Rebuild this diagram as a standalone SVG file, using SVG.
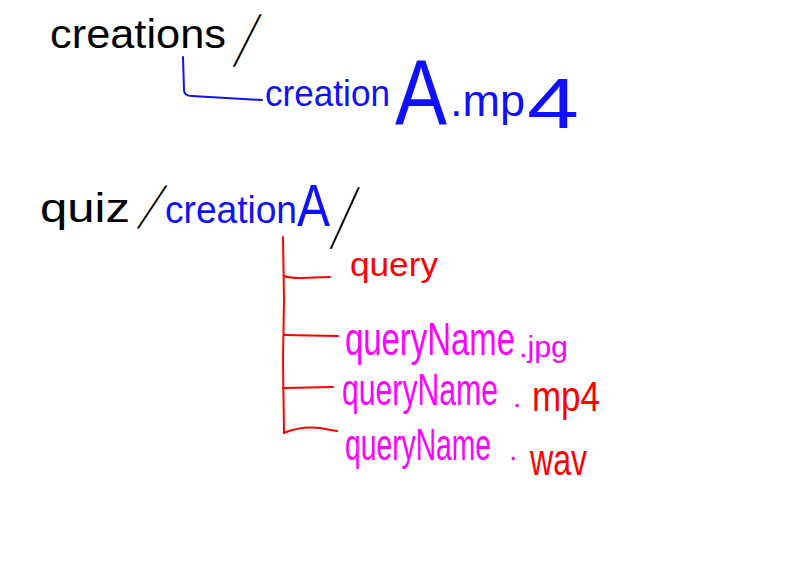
<svg xmlns="http://www.w3.org/2000/svg" width="800" height="568" viewBox="0 0 800 568">
<style>
text{font-family:"Liberation Sans","DejaVu Sans",sans-serif;}
.k{fill:#000}
.b{fill:#1010ff}
.r{fill:#ff0000}
.m{fill:#ff00ff}
.sl{font-size:28px;fill:#000}
.ln{fill:none;stroke-width:2;stroke-linecap:round;stroke-linejoin:round}
</style>
<rect width="800" height="568" fill="#fff"/>
<g id="connectors">
<path class="ln" stroke="#1010ff" d="M183,57 L184,90 Q184,96 192,96 L262,100"/>
<path class="ln" stroke="#ff0000" d="M283,237 L284,300 L283,360 L284,433"/>
<path class="ln" stroke="#ff0000" d="M284,276 Q290,278 300,278 L330,277"/>
<path class="ln" stroke="#ff0000" d="M284,335 L338,336"/>
<path class="ln" stroke="#ff0000" d="M283,388 L333,387"/>
<path class="ln" stroke="#ff0000" d="M284,433 Q300,426 320,428 Q330,430 337,431"/>
</g>
<g id="node-creations">
<text class="k" x="50" y="48" font-size="40" textLength="176" lengthAdjust="spacingAndGlyphs">creations</text>
<text class="sl" transform="translate(233,66) skewX(-22) scale(1,2.55)">/</text>
</g>
<g id="node-creationA-mp4">
<text class="b" x="265" y="106" font-size="36" textLength="125" lengthAdjust="spacingAndGlyphs">creation</text>
<text class="b" x="395" y="125" font-size="92" textLength="52" lengthAdjust="spacingAndGlyphs">A</text>
<text class="b" x="450" y="116" font-size="44" textLength="75" lengthAdjust="spacingAndGlyphs">.mp</text>
<text class="b" x="527" y="128" font-size="70" textLength="52" lengthAdjust="spacingAndGlyphs">4</text>
</g>
<g id="node-quiz">
<text class="k" x="40" y="222" font-size="40" textLength="90" lengthAdjust="spacingAndGlyphs">quiz</text>
<text class="sl" transform="translate(137,228) skewX(-28) scale(1,2.1)">/</text>
<text class="b" x="165" y="223" font-size="38" textLength="132" lengthAdjust="spacingAndGlyphs">creation</text>
<text class="b" x="297" y="226" font-size="60" textLength="33" lengthAdjust="spacingAndGlyphs">A</text>
<text class="sl" transform="translate(330,248) skewX(-20) scale(1,3)">/</text>
</g>
<g id="node-query">
<text class="r" x="350" y="276" font-size="34" textLength="88" lengthAdjust="spacingAndGlyphs">query</text>
</g>
<g id="node-jpg">
<text class="m" x="345" y="355" font-size="46" textLength="170" lengthAdjust="spacingAndGlyphs">queryName</text>
<text class="m" x="519" y="357" font-size="30" textLength="49" lengthAdjust="spacingAndGlyphs">.jpg</text>
</g>
<g id="node-mp4">
<text class="m" x="342" y="405" font-size="44" textLength="156" lengthAdjust="spacingAndGlyphs">queryName</text>
<text><tspan class="m" x="513" y="407" font-size="30">.</tspan><tspan class="r" x="532" y="411" font-size="42" textLength="68" lengthAdjust="spacingAndGlyphs">mp4</tspan></text>
</g>
<g id="node-wav">
<text class="m" x="345" y="460" font-size="44" textLength="146" lengthAdjust="spacingAndGlyphs">queryName</text>
<text><tspan class="m" x="509" y="460" font-size="30">.</tspan><tspan class="r" x="530" y="475" font-size="44" textLength="57" lengthAdjust="spacingAndGlyphs">wav</tspan></text>
</g>
</svg>
